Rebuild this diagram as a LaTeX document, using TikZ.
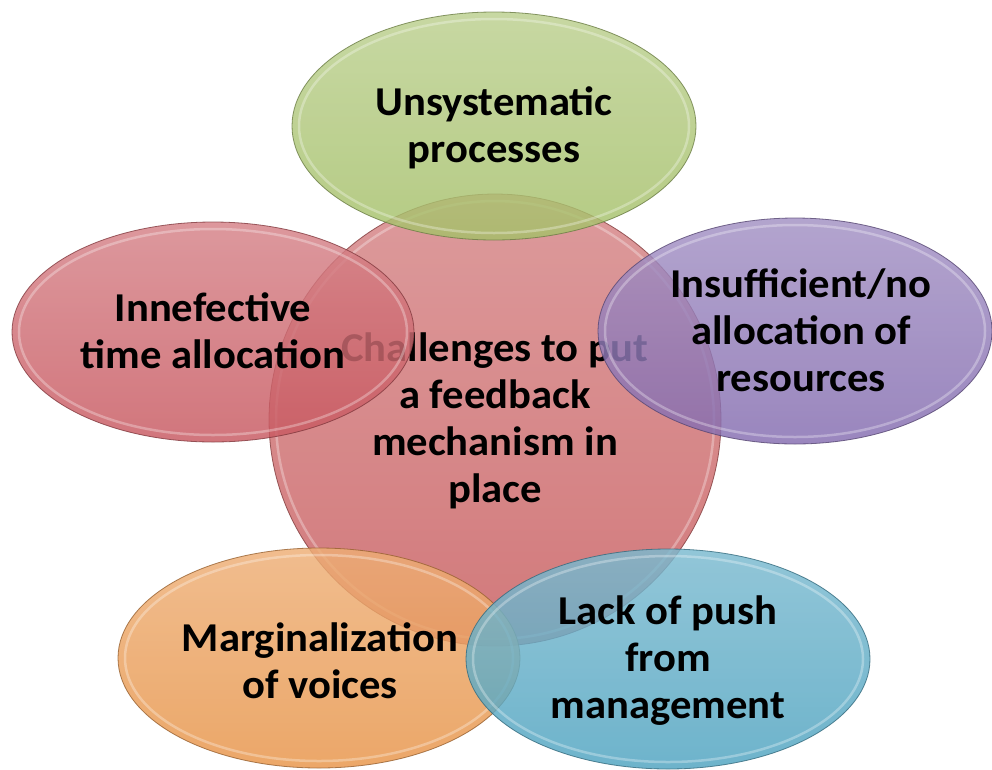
\documentclass[tikz,border=0pt]{standalone}
\usepackage{fontspec}
\setmainfont{Carlito}[FakeStretch=1.04]
\usetikzlibrary{shapes.geometric}
\definecolor{cred}{RGB}{200,92,94}
\definecolor{cgreen}{RGB}{165,192,105}
\definecolor{cpurple}{RGB}{132,108,176}
\definecolor{corange}{RGB}{232,148,72}
\definecolor{cblue}{RGB}{78,163,192}
\definecolor{credl}{RGB}{200,88,96}
\tikzset{
  blob/.style={ellipse, inner sep=0pt, draw=#1!65!black, line width=0.8pt,
    top color=#1!75!white, bottom color=#1, fill opacity=0.82, draw opacity=0.8},
  ring/.style={ellipse, inner sep=0pt, draw=white, line width=2.5pt, draw opacity=0.3},
  lbl/.style={font=\bfseries\fontsize{41}{47}\selectfont, align=center, text=black, inner sep=0pt}
}
\begin{document}
\begin{tikzpicture}[x=1pt,y=-1pt]
\useasboundingbox[fill=white] (0,0) rectangle (992,769);
% centre circle
\node[blob=cred, circle, minimum size=452pt] (c) at (495,420) {};
\node[ring, circle, minimum size=438pt] (cr) at (495,420) {};
\node[lbl] (ct) at (495,421) {Challenges to put\\a feedback\\mechanism in\\place};
% outer ellipses
\node[blob=cgreen, minimum width=404pt, minimum height=228pt] (g) at (494,126) {};
\node[ring, minimum width=390pt, minimum height=214pt] (gr) at (494,126) {};
\node[blob=credl, minimum width=402pt, minimum height=220pt] (l) at (213,332) {};
\node[ring, minimum width=388pt, minimum height=206pt] (lr) at (213,332) {};
\node[blob=cpurple, minimum width=394pt, minimum height=226pt] (p) at (795,331) {};
\node[ring, minimum width=380pt, minimum height=212pt] (pr) at (795,331) {};
\node[blob=corange, minimum width=402pt, minimum height=220pt] (o) at (319,658) {};
\node[ring, minimum width=388pt, minimum height=206pt] (or) at (319,658) {};
\node[blob=cblue, minimum width=404pt, minimum height=220pt] (b) at (668,659) {};
\node[ring, minimum width=390pt, minimum height=206pt] (br) at (668,659) {};
% labels
\node[lbl] (gt) at (494,128) {Unsystematic\\processes};
\node[lbl] (lt) at (213,331) {Innefective\\time allocation};
\node[lbl] (pt) at (801,330) {Insufficient/no\\allocation of\\resources};
\node[lbl] (ot) at (320,661) {Marginalization\\of voices};
\node[lbl] (bt) at (668,661) {Lack of push\\from\\management};
\end{tikzpicture}
\end{document}
